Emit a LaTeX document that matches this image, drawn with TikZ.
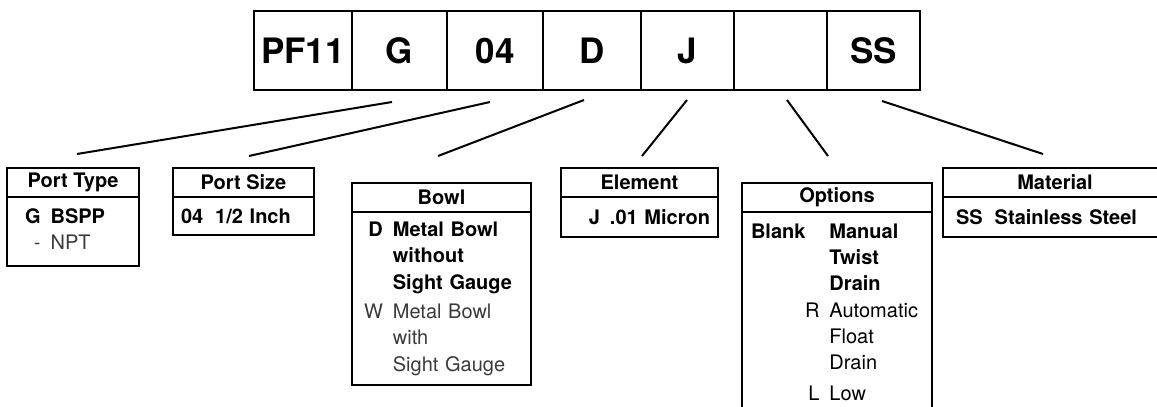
\documentclass[tikz,border=0pt]{standalone}
\usepackage{fontspec}
\setmainfont{TeX Gyre Heros}
\usetikzlibrary{positioning,calc}
\definecolor{ink}{HTML}{000000}
\definecolor{softtext}{HTML}{3A3A3A}
\newcommand\cellfont{\fontsize{35}{40}\selectfont\bfseries}
\newcommand\boxfont{\fontsize{20}{26.3}\selectfont\bfseries}
\newcommand\plain[1]{{\mdseries #1}}
\newcommand\faint[1]{{\mdseries\color{softtext}#1}}

\begin{document}
\begin{tikzpicture}[
  x=1pt, y=-1pt,
  cell/.style={
    draw=ink, line width=2pt, outer sep=0pt, inner sep=0pt,
    minimum height=79pt, font=\cellfont
  },
  head/.style={
    draw=ink, line width=2pt, outer sep=0pt, inner sep=0pt,
    anchor=north west, minimum height=29pt, font=\boxfont
  },
  body/.style={
    draw=ink, line width=2pt, outer sep=0pt, inner ysep=0pt,
    align=left, font=\boxfont
  },
  link/.style={line width=2pt, color=ink}
]
  \useasboundingbox (0,0) rectangle (1157,407);
  \clip (0,0) rectangle (1157,407);

  % part number
  \node[cell, minimum width=98pt] (pf) at (303,50.5) {PF11};
  \node[cell, minimum width=95pt, right=0pt of pf] (portg) {G};
  \node[cell, minimum width=96pt, right=0pt of portg] (size04) {04};
  \node[cell, minimum width=98pt, right=0pt of size04] (bowld) {D};
  \node[cell, minimum width=93pt, right=0pt of bowld] (elemj) {J};
  \node[cell, minimum width=93pt, right=0pt of elemj] (optblank) {};
  \node[cell, minimum width=93pt, right=0pt of optblank] (matss) {SS};

  % legend boxes
  \node[head, minimum width=132pt] (ptype) at (7,168) {Port Type};
  \node[body, below=0pt of ptype, text width=96pt, inner xsep=18pt,
        minimum height=69pt] (ptypebody)
    {\begin{tabular}{@{}r@{\hspace{10pt}}l@{}}
       G & BSPP\\
       \faint{-} & \faint{NPT}
     \end{tabular}};

  \node[head, minimum width=141pt] (psize) at (173,168) {Port Size};
  \node[body, below=0pt of psize, text width=125pt, inner xsep=8pt,
        minimum height=38pt] (psizebody)
    {04\hspace{12pt}1/2 Inch};

  \node[head, minimum width=179pt] (bowl) at (352,183) {Bowl};
  \node[body, below=0pt of bowl, text width=155pt, inner xsep=12pt,
        minimum height=173pt] (bowlbody)
    {\begin{tabular}{@{}r@{\hspace{10pt}}l@{}}
       D & Metal Bowl\\
         & without\\
         & Sight Gauge\\[3pt]
       \faint{W} & \faint{Metal Bowl}\\
         & \faint{with}\\
         & \faint{Sight Gauge}
     \end{tabular}};

  \node[head, minimum width=157pt] (elem) at (561,168) {Element};
  \node[body, below=0pt of elem, text width=141pt, inner xsep=8pt,
        align=right, minimum height=40pt] (elembody)
    {J\hspace{10pt}.01 Micron};

  \node[head, minimum width=190pt] (opts) at (742,183) {Options};
  \node[body, below=0pt of opts, text width=172pt, inner xsep=9pt,
        minimum height=204pt] (optsbody)
    {\begin{tabular}{@{}r@{\hspace{10pt}}l@{}}
       Blank\hspace{14pt} & Manual\\
         & Twist\\
         & Drain\\
       \plain{R} & \plain{Automatic}\\
         & \plain{Float}\\
         & \plain{Drain}\\[4pt]
       \plain{L} & \plain{Low}
     \end{tabular}};

  \node[head, minimum width=224pt] (mat) at (943,168) {Material};
  \node[body, below=0pt of mat, text width=198pt, inner xsep=13pt,
        minimum height=40pt] (matbody)
    {SS\hspace{12pt}Stainless Steel};

  % leader lines
  \draw[link] ($(portg.south)+(-7.5,12)$) -- ($(ptype.north)+(4,-14)$);
  \draw[link] ($(size04.south)+(-5,12)$) -- ($(psize.north)+(5.5,-12)$);
  \draw[link] ($(bowld.south)+(-8,10)$) -- ($(bowl.north)+(-3.5,-27)$);
  \draw[link] ($(elemj.south)+(-0.5,10)$) -- ($(elem.north)+(2.5,-12)$);
  \draw[link] ($(optblank.south)+(6.5,10)$) -- ($(opts.north)+(-9,-27)$);
  \draw[link] ($(matss.south)+(8.5,11)$) -- ($(mat.north)+(-12,-14)$);
\end{tikzpicture}
\end{document}
